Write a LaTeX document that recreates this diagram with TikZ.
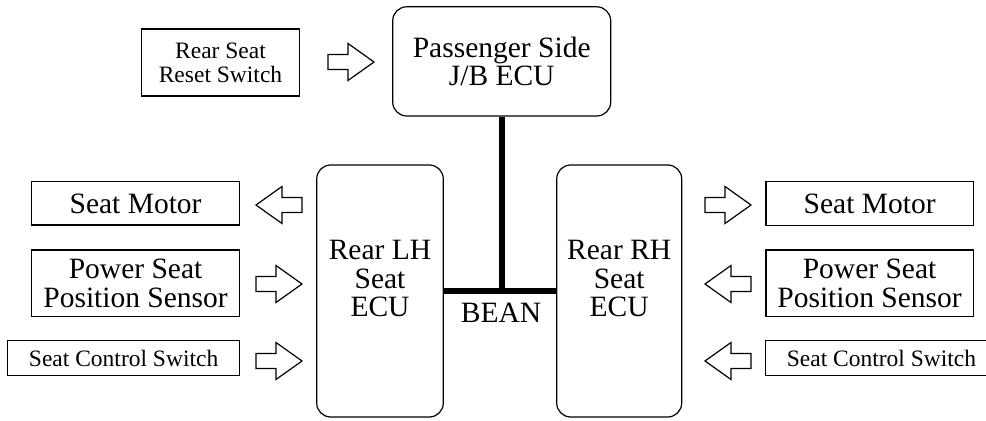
\documentclass[tikz,border=0pt]{standalone}
\usepackage{fontspec}
\setmainfont{Liberation Serif}

\tikzset{
	bigtext/.style={font=\fontsize{14.75}{14.25}\selectfont,align=center},
	smalltext/.style={font=\fontsize{11.75}{12}\selectfont,align=center},
	partbox/.style={draw,line width=0.6pt,inner sep=0pt},
	ecubox/.style={draw,line width=0.6pt,rounded corners=7pt,inner sep=0pt},
	bus/.style={line width=3pt},
	hollowarrow/.pic={
		\draw[line width=0.6pt] (0,-7.5) -- (20,-7.5) -- (20,-18.5) -- (46,0) -- (20,18.5) -- (20,7.5) -- (0,7.5) -- cycle;
	}
}

\begin{document}
\begin{tikzpicture}[x=0.5pt,y=-0.5pt]
		\useasboundingbox (0,0) rectangle (986,421);
		\clip (0,0) rectangle (986,421);
		
		% ECUs
		\node[ecubox,bigtext,minimum width=109pt,minimum height=54.6pt] (jb) at (501.7,61.4) {Passenger Side\\J/B ECU};
		\node[ecubox,minimum width=63.3pt,minimum height=126pt] (lh) at (380,291) {};
		\node[ecubox,minimum width=62.5pt,minimum height=126pt] (rh) at (619.2,291) {};
		\node[bigtext] (lhtext) at (380,278.5) {Rear LH\\Seat\\ECU};
		\node[bigtext] (rhtext) at (619.2,278.5) {Rear RH\\Seat\\ECU};
		
		% BEAN
		\coordinate (tee) at (jb.south |- lh.east);
		\draw[bus] (jb.south) -- (tee);
		\draw[bus] (lh.east) -- (rh.west);
		\node[bigtext] (bean) at (501,313) {BEAN};
		
		% parts
		\node[partbox,smalltext,minimum width=78.8pt,minimum height=33.5pt] (reset) at (220.5,62.5) {Rear Seat\\Reset Switch};
		\node[partbox,bigtext,minimum width=104pt,minimum height=21.7pt] (lmotor) at (135.6,203.4) {Seat Motor};
		\node[partbox,bigtext,minimum width=104pt,minimum height=33.4pt] (lsensor) at (135.6,283.4) {Power Seat\\Position Sensor};
		\node[partbox,smalltext,minimum width=115.9pt,minimum height=17.5pt] (lswitch) at (123.6,358.2) {Seat Control Switch};
		\node[partbox,bigtext,minimum width=103.7pt,minimum height=22pt] (rmotor) at (869.7,203.8) {Seat Motor};
		\node[partbox,bigtext,minimum width=103.7pt,minimum height=33.4pt] (rsensor) at (869.6,283.4) {Power Seat\\Position Sensor};
		\node[partbox,smalltext,minimum width=115.9pt,minimum height=17.8pt] (rswitch) at (881.5,358) {Seat Control Switch};
		
		% arrows
		\pic at (328,62) {hollowarrow};
		\pic[xscale=-1] at (302,205) {hollowarrow};
		\pic at (256,284) {hollowarrow};
		\pic at (256,361) {hollowarrow};
		\pic at (705,205) {hollowarrow};
		\pic[xscale=-1] at (751,284) {hollowarrow};
		\pic[xscale=-1] at (751,361) {hollowarrow};
\end{tikzpicture}
\end{document}
